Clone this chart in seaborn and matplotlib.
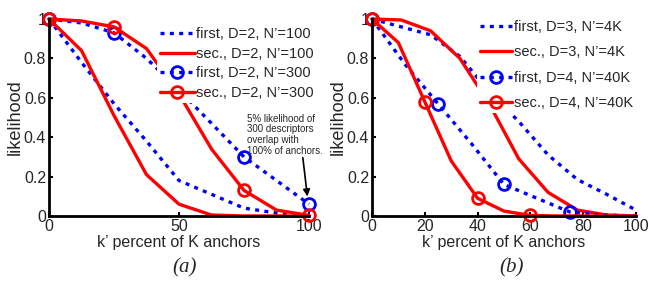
import numpy as np
import seaborn as sns
import matplotlib.pyplot as plt

sns.set_style("ticks")
plt.rcParams['font.family'] = ['Liberation Sans', 'DejaVu Sans']

# ---- panel (a) data ----
x_a = [0, 12.5, 25, 37.5, 50, 62.5, 75, 87.5, 100]
first_a100 = [1, 0.78, 0.57, 0.38, 0.18, 0.11, 0.04, 0.015, 0]
sec_a100 = [1, 0.84, 0.51, 0.21, 0.06, 0.005, 0, 0, 0]
first_a300 = [1, 0.98, 0.93, 0.80, 0.64, 0.47, 0.30, 0.18, 0.06]
sec_a300 = [1, 0.99, 0.96, 0.85, 0.62, 0.34, 0.13, 0.03, 0.003]
mk_first_a300 = [0, 2, 4, 6, 8]
mk_sec_a300 = [0, 2, 4, 6, 8]

# ---- panel (b) data ----
x_b3 = [0, 11.1, 22.2, 33.3, 44.4, 55.6, 66.7, 77.8, 88.9, 100]
first_b3 = [1, 0.96, 0.92, 0.81, 0.63, 0.48, 0.31, 0.185, 0.11, 0.03]
sec_b3 = [1, 0.995, 0.94, 0.80, 0.57, 0.29, 0.12, 0.03, 0.005, 0]
x_b4_first = [0, 12.5, 25, 37.5, 50, 62.5, 75, 87.5, 100]
first_b4 = [1, 0.77, 0.57, 0.37, 0.16, 0.09, 0.02, 0.005, 0]
x_b4_sec = [0, 10, 20, 30, 40, 50, 60, 70, 80, 90, 100]
sec_b4 = [1, 0.88, 0.58, 0.28, 0.09, 0.025, 0.003, 0, 0, 0, 0]
mk_first_b4 = [0, 2, 4, 6]
mk_sec_b4 = [0, 2, 4, 6]

blue = '#0000ff'
red = '#ff0000'
dot = (0, (1.2, 1.6))
lw = 2.4

fig = plt.figure(figsize=(6.6, 2.86), dpi=100)
ax_a = fig.add_axes([0.0742, 0.2448, 0.394, 0.6888])
ax_b = fig.add_axes([0.5636, 0.2448, 0.400, 0.6888])


def draw(ax, x, y, color, ls, label, mk=None):
    kw = dict(x=x, y=y, ax=ax, color=color, linestyle=ls, linewidth=lw,
              label=label, clip_on=False)
    if mk is not None:
        kw.update(marker='o', markevery=mk, markersize=8.5,
                  markerfacecolor='none', markeredgecolor=color,
                  markeredgewidth=2)
    sns.lineplot(**kw)


draw(ax_a, x_a, first_a100, blue, dot, "first, D=2, N\u2019=100")
draw(ax_a, x_a, sec_a100, red, '-', "sec., D=2, N\u2019=100")
draw(ax_a, x_a, first_a300, blue, dot, "first, D=2, N\u2019=300", mk_first_a300)
draw(ax_a, x_a, sec_a300, red, '-', "sec., D=2, N\u2019=300", mk_sec_a300)

draw(ax_b, x_b3, first_b3, blue, dot, "first, D=3, N\u2019=4K")
draw(ax_b, x_b3, sec_b3, red, '-', "sec., D=3, N\u2019=4K")
draw(ax_b, x_b4_first, first_b4, blue, dot, "first, D=4, N\u2019=40K", mk_first_b4)
draw(ax_b, x_b4_sec, sec_b4, red, '-', "sec., D=4, N\u2019=40K", mk_sec_b4)

for ax, xt in [(ax_a, [0, 50, 100]), (ax_b, [0, 20, 40, 60, 80, 100])]:
    ax.set_xlim(0, 100)
    ax.set_ylim(0, 1)
    ax.set_xticks(xt)
    ax.set_xticklabels([str(v) for v in xt])
    ax.set_yticks([0, 0.2, 0.4, 0.6, 0.8, 1])
    ax.set_yticklabels(['0', '0.2', '0.4', '0.6', '0.8', '1'])
    ax.tick_params(direction='in', length=3, width=1.5, labelsize=11.5, pad=2,
                   color='black')
    for s in ['top', 'right']:
        ax.spines[s].set_visible(False)
    for s in ['left', 'bottom']:
        ax.spines[s].set_linewidth(2)
        ax.spines[s].set_color('black')
    ax.set_xlabel("k\u2019 percent of K anchors", fontsize=11.5, labelpad=1)
    ax.set_ylabel("likelihood", fontsize=13, labelpad=0)

leg_a = ax_a.legend(loc='upper right', bbox_to_anchor=(1.03, 0.975),
                    fontsize=10.5, frameon=True, framealpha=1, edgecolor='none',
                    facecolor='white', handlelength=2.4, handletextpad=0.1,
                    labelspacing=0.4, borderpad=0.2, borderaxespad=0)
leg_b = ax_b.legend(loc='upper right', bbox_to_anchor=(1.0, 1.01),
                    fontsize=10.5, frameon=True, framealpha=1, edgecolor='none',
                    facecolor='white', handlelength=2.2, handletextpad=0.1,
                    labelspacing=0.78, borderpad=0.2, borderaxespad=0)

ax_a.text(76, 0.52, "5% likelihood of\n300 descriptors\noverlap with\n100% of anchors.",
          fontsize=7, ha='left', va='top', linespacing=1.1)
ax_a.annotate('', xy=(99.5, 0.085), xytext=(97.5, 0.31),
              arrowprops=dict(arrowstyle='-|>', color='black', lw=1.2,
                              mutation_scale=10))

fig.text(0.28, 0.062, "(a)", fontsize=15, family='Liberation Serif',
         style='italic', ha='center', va='center')
fig.text(0.775, 0.062, "(b)", fontsize=15, family='Liberation Serif',
         style='italic', ha='center', va='center')

fig.savefig('out.png', dpi=100)
